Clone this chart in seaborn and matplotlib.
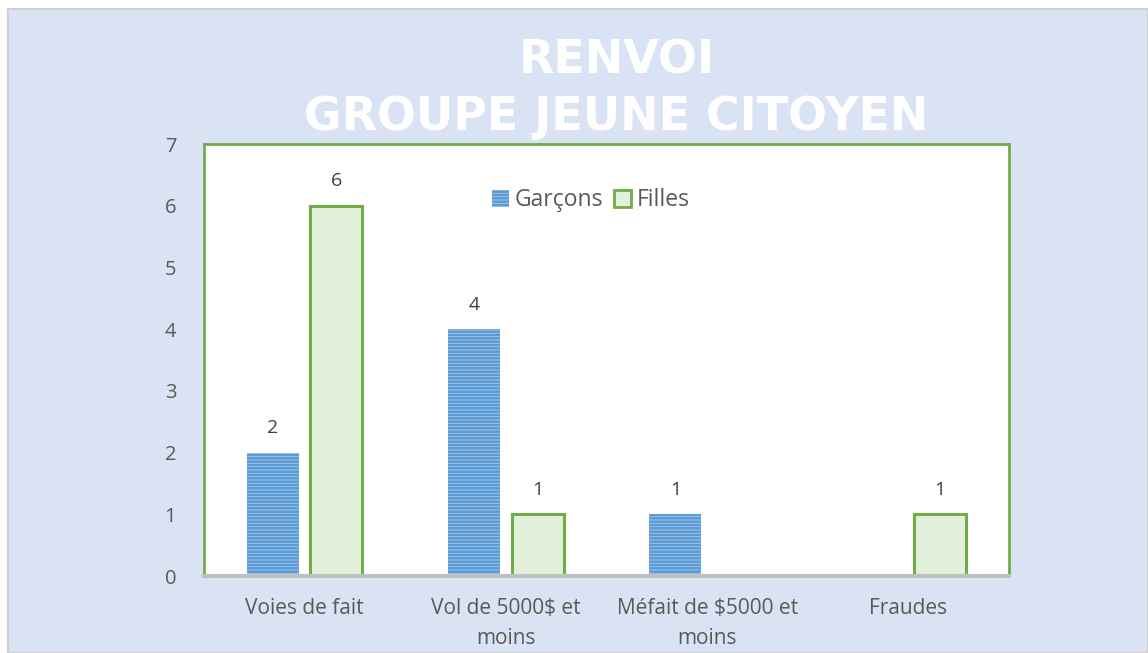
import matplotlib
matplotlib.use("Agg")
import matplotlib.pyplot as plt
import seaborn as sns
import pandas as pd
from matplotlib.patches import Rectangle

categories = ["Voies de fait", "Vol de 5000\\$ et\nmoins", "Méfait de \\$5000 et\nmoins", "Fraudes"]
series = ["Garçons", "Filles"]
garcons = [2, 4, 1, 0]
filles = [6, 1, 0, 1]
yticks = [0, 1, 2, 3, 4, 5, 6, 7]
title_lines = ["RENVOI", "GROUPE JEUNE CITOYEN"]

sns.set_theme(style="white")
plt.rcParams['font.family'] = ['Open Sans', 'DejaVu Sans']
plt.rcParams['hatch.linewidth'] = 1.8

df = pd.DataFrame({
    "cat": categories * 2,
    "serie": [series[0]] * 4 + [series[1]] * 4,
    "val": garcons + filles,
})

fig = plt.figure(figsize=(11.48, 6.53), dpi=100)
fig.patch.set_facecolor("white")
bg = Rectangle((8 / 1148, 0), 1 - 8 / 1148, 1 - 9 / 653, transform=fig.transFigure,
               facecolor="#DAE3F3", edgecolor="#D0D0D0", linewidth=1.5, zorder=-10)
fig.patches.append(bg)

ax = fig.add_axes([204 / 1148, 1 - 576 / 653, (1009 - 204) / 1148, (576 - 144) / 653])
ax.set_facecolor("white")

palette = {"Garçons": "#A9CBEB", "Filles": "#E2EFDA"}
sns.barplot(data=df, x="cat", y="val", hue="serie", order=categories, hue_order=series,
            palette=palette, width=0.632, gap=0.18, ax=ax, legend=True, saturation=1)

for cont, name in zip(ax.containers, series):
    for bar in cont:
        if name == "Garçons":
            bar.set_hatch("-----")
            bar.set_edgecolor("#5B9BD5")
            bar.set_linewidth(0)
        else:
            bar.set_edgecolor("#70AD47")
            bar.set_linewidth(2.2)
    labels = [f"{int(v)}" if v > 0 else "" for v in cont.datavalues]
    ax.bar_label(cont, labels=labels, padding=11, fontsize=14, color="#404040")

ax.set_ylim(0, 7)
ax.set_xlim(-0.5, 3.5)
ax.set_yticks(yticks)
ax.set_yticklabels([str(t) for t in yticks], fontsize=14.5, color="#595959")
ax.tick_params(axis="y", length=0, pad=20)
ax.tick_params(axis="x", length=0, pad=16, labelsize=15, labelcolor="#595959")
for lab in ax.get_xticklabels():
    lab.set_linespacing(1.55)
ax.set_xlabel("")
ax.set_ylabel("")

for s in ["top", "left", "right"]:
    ax.spines[s].set_color("#70AD47")
    ax.spines[s].set_linewidth(2)
ax.spines["bottom"].set_color("#BFBFBF")
ax.spines["bottom"].set_linewidth(3)

ax.get_legend().remove()
h0 = Rectangle((0, 0), 1, 1, facecolor="#A9CBEB", edgecolor="#5B9BD5", hatch="-----", linewidth=0)
h1 = Rectangle((0, 0), 1, 1, facecolor="#E2EFDA", edgecolor="#70AD47", linewidth=2)
ax.legend([h0, h1], series, loc="upper center", bbox_to_anchor=(0.4805, 0.945), ncol=2,
          frameon=False, fontsize=16.5, handlelength=0.75, handleheight=0.8,
          handletextpad=0.25, columnspacing=0.45, labelcolor="#595959")

fig.text(617 / 1148, 1 - 61 / 653, title_lines[0], ha="center", va="center", color="white",
         fontsize=33, fontweight="bold", family="DejaVu Sans")
fig.text(616 / 1148, 1 - 118 / 653, title_lines[1], ha="center", va="center", color="white",
         fontsize=33, fontweight="bold", family="DejaVu Sans")

fig.savefig("out.png", dpi=100)
